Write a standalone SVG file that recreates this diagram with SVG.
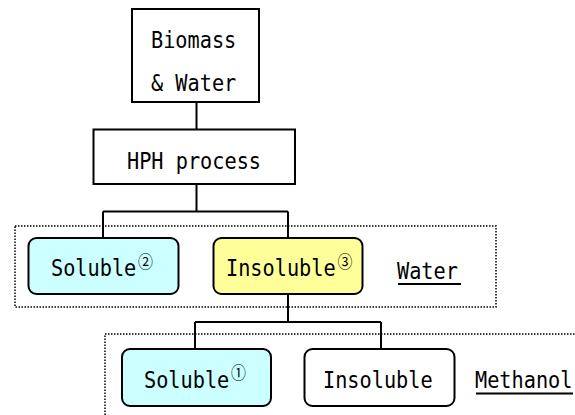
<svg xmlns="http://www.w3.org/2000/svg" width="575" height="415" viewBox="0 0 575 415">
<style>
.box{fill:#fff;stroke:#000;stroke-width:2}
.rbox{stroke:#000;stroke-width:2}
.dot{fill:none;stroke:#000;stroke-width:1.5;stroke-dasharray:1.5 1.5}
.ln{fill:none;stroke:#000;stroke-width:2}
.t{font-family:"DejaVu Sans Mono","Liberation Mono",monospace;font-size:23px;fill:#000}
.c{font-family:"Noto Sans CJK JP",sans-serif;font-size:17px}
</style>
<rect width="575" height="415" fill="#fff"/>
<g id="groups">
<rect class="dot" x="15" y="226" width="481" height="81"/>
<rect class="dot" x="105" y="334" width="480" height="90"/>
</g>
<g id="connectors">
<path class="ln" d="M196.5 102V129.5M196.5 184V211.5M103 211.5H288M103 211.5V238M288 211.5V238M288 294V322M195 322H381M195 322V349M381 322V349"/>
</g>
<g id="biomass">
<rect class="box" x="132" y="9" width="127" height="93"/>
<text class="t" transform="translate(151,48) scale(0.88,1)">Biomass</text>
<text class="t" transform="translate(151,91) scale(0.88,1)">&amp; Water</text>
</g>
<g id="hph">
<rect class="box" x="93.5" y="129.5" width="201.5" height="54.5"/>
<text class="t" transform="translate(127,169) scale(0.88,1)">HPH process</text>
</g>
<g id="soluble2">
<rect class="rbox" x="28.5" y="238" width="150" height="56" rx="8" fill="#ccffff"/>
<text class="t" transform="translate(51,276) scale(0.88,1)">Soluble<tspan class="c" dx="2" dy="-8">②</tspan></text>
</g>
<g id="insoluble3">
<rect class="rbox" x="213.5" y="238" width="149" height="56" rx="8" fill="#ffff99"/>
<text class="t" transform="translate(226,276) scale(0.88,1)">Insoluble<tspan class="c" dx="2" dy="-8">③</tspan></text>
</g>
<g id="water">
<text class="t" transform="translate(397,279) scale(0.88,1)">Water</text>
<line x1="398" y1="284" x2="461" y2="284" stroke="#000" stroke-width="2"/>
</g>
<g id="soluble1">
<rect class="rbox" x="122" y="349" width="149" height="57" rx="8" fill="#ccffff"/>
<text class="t" transform="translate(144,388) scale(0.88,1)">Soluble<tspan class="c" dx="2" dy="-9">①</tspan></text>
</g>
<g id="insoluble">
<rect class="rbox" x="304.5" y="349" width="150" height="57" rx="8" fill="#fff"/>
<text class="t" transform="translate(323,388) scale(0.88,1)">Insoluble</text>
</g>
<g id="methanol">
<text class="t" transform="translate(475,388) scale(0.88,1)">Methanol</text>
<line x1="476" y1="393.5" x2="573" y2="393.5" stroke="#000" stroke-width="2"/>
</g>
</svg>
